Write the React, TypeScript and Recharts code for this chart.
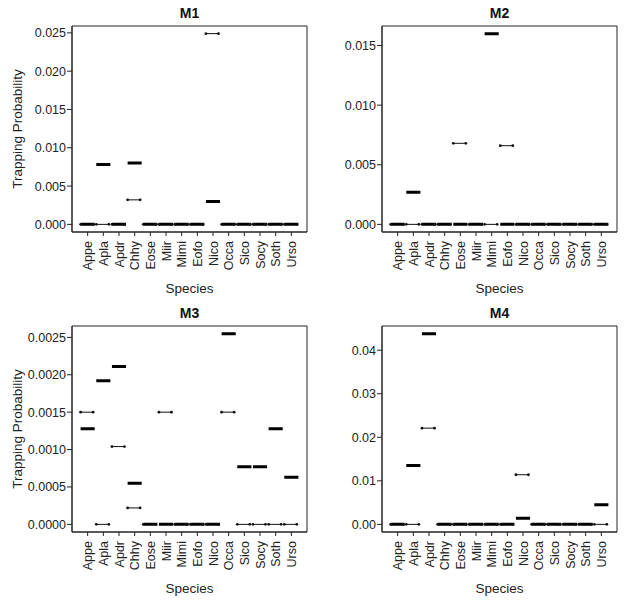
import React from 'react';
import { LineChart, Line, XAxis, YAxis, ReferenceArea } from 'recharts';

const species = ['Appe', 'Apla', 'Apdr', 'Chhy', 'Eose', 'Miir', 'Mimi', 'Eofo', 'Nico', 'Occa', 'Sico', 'Socy', 'Soth', 'Urso'];

// thick bar = estimate, thin dotted segment = second estimate
const m1Thick = [0, 0.0078, 0, 0.0080, 0, 0, 0, 0, 0.0030, 0, 0, 0, 0, 0];
const m1Thin = [0, 0, 0, 0.0032, 0, 0, 0, 0, 0.0249, 0, 0, 0, 0, 0];
const m2Thick = [0, 0.0027, 0, 0, 0, 0, 0.0160, 0, 0, 0, 0, 0, 0, 0];
const m2Thin = [0, 0, 0, 0, 0.0068, 0, 0, 0.0066, 0, 0, 0, 0, 0, 0];
const m3Thick = [0.00128, 0.00192, 0.00211, 0.00055, 0, 0, 0, 0, 0, 0.00255, 0.00077, 0.00077, 0.00128, 0.00063];
const m3Thin = [0.0015, 0, 0.00104, 0.00022, 0, 0.0015, 0, 0, 0, 0.0015, 0, 0, 0, 0];
const m4Thick = [0, 0.0135, 0.0438, 0, 0, 0, 0, 0, 0.0014, 0, 0, 0, 0, 0.0045];
const m4Thin = [0, 0, 0.0221, 0, 0, 0, 0, 0, 0.0114, 0, 0, 0, 0, 0];

const m1Ticks = [0, 0.005, 0.01, 0.015, 0.02, 0.025];
const m2Ticks = [0, 0.005, 0.01, 0.015];
const m3Ticks = [0, 0.0005, 0.001, 0.0015, 0.002, 0.0025];
const m4Ticks = [0, 0.01, 0.02, 0.03, 0.04];

const FONT = '"Liberation Sans", Arial, sans-serif';
const INK = '#222';

const segs = (vals: number[], lo: number, hi: number) =>
  vals.flatMap((v, i) => [
    { x: i + 1 - lo, y: v },
    { x: i + 1 + hi, y: v },
    { x: i + 1 + hi, y: null },
  ]);

const SpeciesTick = (props: any) => {
  const { x, payload } = props;
  const y = props.y + 4;
  return (
    <text x={x} y={y} dy="0.36em" textAnchor="end" transform={`rotate(-90, ${x}, ${y})`}
      fontSize={12.5} fill={INK} fontFamily={FONT}>
      {species[payload.value - 1]}
    </text>
  );
};

interface PanelProps {
  title: string;
  thick: number[];
  thin: number[];
  ticks: number[];
  digits: number;
  yLabel?: boolean;
  left: number;
  top: number;
}

const Panel: React.FC<PanelProps> = ({ title, thick, thin, ticks, digits, yLabel, left, top }) => {
  const mx = Math.max(...thick, ...thin);
  const domain = [-0.04 * mx, 1.04 * mx];
  return (
    <div style={{ position: 'absolute', left, top, width: 314, height: 300 }}>
      <div style={{ position: 'absolute', left: 72, width: 235, top: 5, textAlign: 'center', fontFamily: FONT, fontWeight: 'bold', fontSize: 14, lineHeight: '16px', color: '#111' }}>
        {title}
      </div>
      <LineChart width={314} height={300} margin={{ top: 26, right: 7, bottom: 0, left: 0 }}>
        <XAxis type="number" dataKey="x" domain={[0, 15]} allowDataOverflow
          ticks={species.map((_, i) => i + 1)} interval={0}
          tick={<SpeciesTick />} tickSize={4} tickMargin={1} height={68}
          axisLine={{ stroke: INK }} tickLine={{ stroke: INK }}
          label={{ value: 'Species', position: 'insideBottom', offset: 7.5, style: { fontSize: 13.5, fill: INK, fontFamily: FONT } }} />
        <YAxis type="number" domain={domain} allowDataOverflow ticks={ticks} interval={0}
          tickFormatter={(v: number) => v.toFixed(digits)} width={72} tickSize={5} tickMargin={1}
          tick={{ fontSize: 12.5, fill: INK, fontFamily: FONT }}
          axisLine={{ stroke: INK }} tickLine={{ stroke: INK }}
          label={yLabel ? { value: 'Trapping Probability', angle: -90, position: 'insideLeft', offset: 17, style: { textAnchor: 'middle', fontSize: 13.5, fill: INK, fontFamily: FONT } } : undefined} />
        <ReferenceArea x1={0} x2={15} y1={domain[0]} y2={domain[1]} fill="none" stroke={INK} strokeOpacity={1} ifOverflow="visible" />
        <Line data={segs(thin, 0.45, 0.35)} dataKey="y" stroke="#111" strokeWidth={1}
          dot={{ r: 1.4, fill: '#111', stroke: 'none' }} isAnimationActive={false} connectNulls={false} />
        <Line data={segs(thick, 0.45, 0.45)} dataKey="y" stroke="#000" strokeWidth={3}
          dot={false} isAnimationActive={false} connectNulls={false} />
      </LineChart>
    </div>
  );
};

export default function App() {
  return (
    <div style={{ position: 'absolute', left: 0, top: 0, width: 629, height: 606, background: '#fff' }}>
      <Panel title="M1" thick={m1Thick} thin={m1Thin} ticks={m1Ticks} digits={3} yLabel left={0} top={0} />
      <Panel title="M2" thick={m2Thick} thin={m2Thin} ticks={m2Ticks} digits={3} left={310} top={0} />
      <Panel title="M3" thick={m3Thick} thin={m3Thin} ticks={m3Ticks} digits={4} yLabel left={0} top={300} />
      <Panel title="M4" thick={m4Thick} thin={m4Thin} ticks={m4Ticks} digits={2} left={310} top={300} />
    </div>
  );
}
